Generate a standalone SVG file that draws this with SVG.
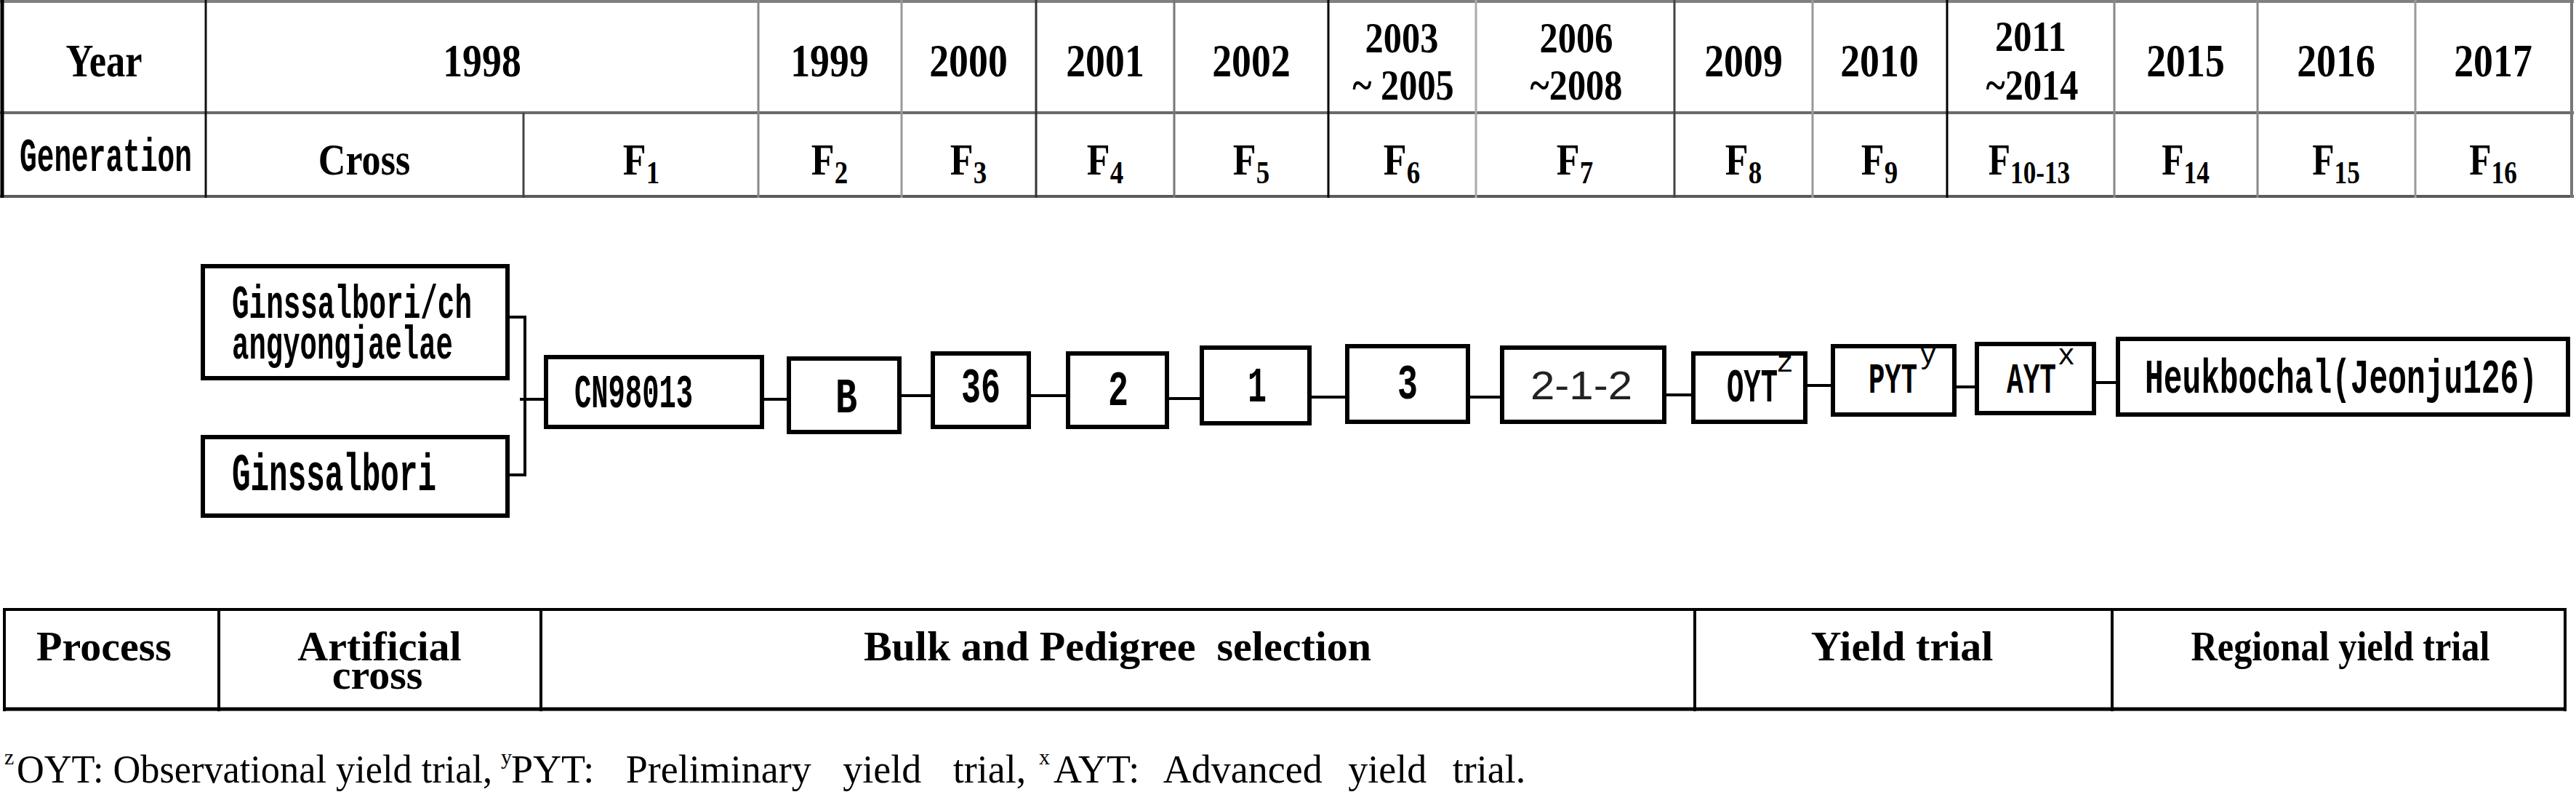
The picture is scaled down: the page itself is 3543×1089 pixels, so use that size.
<svg xmlns="http://www.w3.org/2000/svg" width="3543" height="1089" viewBox="0 0 3543 1089">
<style>
.hd{font-family:"Liberation Serif",serif;font-weight:bold;fill:#000;text-anchor:middle}
.y1{font-size:64px}
.y2{font-size:60px}
.gen{font-size:62px}
.sub{font-size:44px}
.mono{font-family:"Liberation Mono",monospace;font-weight:bold;fill:#000}
.box{fill:#fff;stroke:#000;stroke-width:6}
.conn{fill:none;stroke:#000;stroke-width:4}
.bt{font-family:"Liberation Serif",serif;font-weight:bold;font-size:58px;text-anchor:middle;fill:#000}
.fn{font-family:"Liberation Serif",serif;font-size:54px;fill:#000}
.fs{font-family:"Liberation Serif",serif;font-size:30px;fill:#000}
.sup{font-family:"Liberation Mono",monospace;font-size:40px;fill:#000}
</style>
<rect width="3543" height="1089" fill="#fff"/>

<g id="header-table">
  <g fill="none">
    <line x1="0" y1="2" x2="3540" y2="2" stroke="#808080" stroke-width="4"/>
    <line x1="0" y1="155" x2="3540" y2="155" stroke="#6a6a6a" stroke-width="4"/>
    <line x1="0" y1="270" x2="3540" y2="270" stroke="#5a5a5a" stroke-width="4"/>
    <line x1="3" y1="0" x2="3" y2="272" stroke="#000" stroke-width="5"/>
    <line x1="283" y1="0" x2="283" y2="272" stroke="#111" stroke-width="3"/>
    <line x1="720" y1="155" x2="720" y2="272" stroke="#444" stroke-width="3"/>
    <line x1="1043" y1="0" x2="1043" y2="272" stroke="#888" stroke-width="3"/>
    <line x1="1240" y1="0" x2="1240" y2="272" stroke="#999" stroke-width="3"/>
    <line x1="1425" y1="0" x2="1425" y2="272" stroke="#333" stroke-width="3"/>
    <line x1="1615" y1="0" x2="1615" y2="272" stroke="#777" stroke-width="3"/>
    <line x1="1827" y1="0" x2="1827" y2="272" stroke="#000" stroke-width="3"/>
    <line x1="2030" y1="0" x2="2030" y2="272" stroke="#aaa" stroke-width="3"/>
    <line x1="2303" y1="0" x2="2303" y2="272" stroke="#444" stroke-width="3"/>
    <line x1="2493" y1="0" x2="2493" y2="272" stroke="#999" stroke-width="3"/>
    <line x1="2678" y1="0" x2="2678" y2="272" stroke="#000" stroke-width="3"/>
    <line x1="2908" y1="0" x2="2908" y2="272" stroke="#888" stroke-width="3"/>
    <line x1="3105" y1="0" x2="3105" y2="272" stroke="#888" stroke-width="3"/>
    <line x1="3322" y1="0" x2="3322" y2="272" stroke="#999" stroke-width="3"/>
    <line x1="3537" y1="0" x2="3537" y2="272" stroke="#777" stroke-width="4"/>
  </g>
  <g class="hd y1">
    <text transform="translate(143,105) scale(0.82,1)">Year</text>
    <text transform="translate(663,105) scale(0.84,1)">1998</text>
    <text transform="translate(1141,105) scale(0.84,1)">1999</text>
    <text transform="translate(1332,105) scale(0.84,1)">2000</text>
    <text transform="translate(1520,105) scale(0.84,1)">2001</text>
    <text transform="translate(1721,105) scale(0.84,1)">2002</text>
    <text transform="translate(2398,105) scale(0.84,1)">2009</text>
    <text transform="translate(2585,105) scale(0.84,1)">2010</text>
    <text transform="translate(3006,105) scale(0.84,1)">2015</text>
    <text transform="translate(3213,105) scale(0.84,1)">2016</text>
    <text transform="translate(3429,105) scale(0.84,1)">2017</text>
  </g>
  <g class="hd y2">
    <text transform="translate(1928,72) scale(0.84,1)">2003</text>
    <text transform="translate(1930,137) scale(0.84,1)" xml:space="preserve">~ 2005</text>
    <text transform="translate(2168,72) scale(0.84,1)">2006</text>
    <text transform="translate(2168,137) scale(0.84,1)">~2008</text>
    <text transform="translate(2793,70) scale(0.84,1)">2011</text>
    <text transform="translate(2795,137) scale(0.84,1)">~2014</text>
  </g>
  <text class="mono" x="27" y="235" font-size="64" textLength="237" lengthAdjust="spacingAndGlyphs">Generation</text>
  <g class="hd gen">
    <text transform="translate(501,240) scale(0.84,1)">Cross</text>
    <text transform="translate(882,240) scale(0.84,1)">F<tspan class="sub" dy="12">1</tspan></text>
    <text transform="translate(1141,240) scale(0.84,1)">F<tspan class="sub" dy="12">2</tspan></text>
    <text transform="translate(1332,240) scale(0.84,1)">F<tspan class="sub" dy="12">3</tspan></text>
    <text transform="translate(1520,240) scale(0.84,1)">F<tspan class="sub" dy="12">4</tspan></text>
    <text transform="translate(1721,240) scale(0.84,1)">F<tspan class="sub" dy="12">5</tspan></text>
    <text transform="translate(1928,240) scale(0.84,1)">F<tspan class="sub" dy="12">6</tspan></text>
    <text transform="translate(2166,240) scale(0.84,1)">F<tspan class="sub" dy="12">7</tspan></text>
    <text transform="translate(2398,240) scale(0.84,1)">F<tspan class="sub" dy="12">8</tspan></text>
    <text transform="translate(2585,240) scale(0.84,1)">F<tspan class="sub" dy="12">9</tspan></text>
    <text transform="translate(2791,240) scale(0.80,1)">F<tspan class="sub" dy="12">10-13</tspan></text>
    <text transform="translate(3006,240) scale(0.80,1)">F<tspan class="sub" dy="12">14</tspan></text>
    <text transform="translate(3213,240) scale(0.80,1)">F<tspan class="sub" dy="12">15</tspan></text>
    <text transform="translate(3429,240) scale(0.80,1)">F<tspan class="sub" dy="12">16</tspan></text>
  </g>
</g>

<g id="connectors">
  <path class="conn" d="M692,436 H722 V653 H692 M715,549 H748"/>
  <path class="conn" d="M1051,549 H1082"/>
  <path class="conn" d="M1240,544 H1280"/>
  <path class="conn" d="M1418,544 H1466"/>
  <path class="conn" d="M1608,548 H1650"/>
  <path class="conn" d="M1804,546 H1850"/>
  <path class="conn" d="M2022,546 H2063"/>
  <path class="conn" d="M2292,543 H2326"/>
  <path class="conn" d="M2486,530 H2518"/>
  <path class="conn" d="M2691,532 H2716"/>
  <path class="conn" d="M2883,526 H2910"/>
</g>

<g id="node-parent1">
  <rect class="box" x="279" y="366" width="419" height="154"/>
  <text class="mono" x="319" y="437" font-size="64" textLength="330" lengthAdjust="spacingAndGlyphs">Ginssalbori/ch</text>
  <text class="mono" x="319" y="493" font-size="64" textLength="304" lengthAdjust="spacingAndGlyphs">angyongjaelae</text>
</g>
<g id="node-parent2">
  <rect class="box" x="279" y="601" width="419" height="108"/>
  <text class="mono" x="319" y="674" font-size="72" textLength="281" lengthAdjust="spacingAndGlyphs">Ginssalbori</text>
</g>
<g id="node-cn98013">
  <rect class="box" x="751" y="491" width="297" height="96"/>
  <text class="mono" x="790" y="560" font-size="64" textLength="163" lengthAdjust="spacingAndGlyphs">CN98013</text>
</g>
<g id="node-b">
  <rect class="box" x="1085" y="493" width="152" height="101"/>
  <text class="mono" x="1149" y="567" font-size="68" textLength="30" lengthAdjust="spacingAndGlyphs">B</text>
</g>
<g id="node-36">
  <rect class="box" x="1283" y="486" width="132" height="101"/>
  <text class="mono" x="1322" y="553" font-size="68" textLength="54" lengthAdjust="spacingAndGlyphs">36</text>
</g>
<g id="node-2">
  <rect class="box" x="1469" y="486" width="136" height="101"/>
  <text class="mono" x="1524" y="557" font-size="68" textLength="28" lengthAdjust="spacingAndGlyphs">2</text>
</g>
<g id="node-1">
  <rect class="box" x="1653" y="478" width="148" height="104"/>
  <text class="mono" x="1716" y="552" font-size="68" textLength="26" lengthAdjust="spacingAndGlyphs">1</text>
</g>
<g id="node-3">
  <rect class="box" x="1853" y="476" width="166" height="104"/>
  <text class="mono" x="1922" y="548" font-size="68" textLength="28" lengthAdjust="spacingAndGlyphs">3</text>
</g>
<g id="node-2-1-2">
  <rect class="box" x="2066" y="478" width="223" height="102"/>
  <text x="2105" y="549" font-family="Liberation Sans, sans-serif" font-size="56" fill="#222" textLength="140" lengthAdjust="spacingAndGlyphs">2-1-2</text>
</g>
<g id="node-oyt">
  <rect class="box" x="2329" y="486" width="154" height="94"/>
  <text class="mono" x="2375" y="552" font-size="64" textLength="70" lengthAdjust="spacingAndGlyphs">OYT</text>
  <text class="sup" x="2443" y="511">z</text>
</g>
<g id="node-pyt">
  <rect class="box" x="2521" y="476" width="167" height="94"/>
  <text class="mono" x="2570" y="540" font-size="60" textLength="67" lengthAdjust="spacingAndGlyphs">PYT</text>
  <text class="sup" x="2640" y="500">y</text>
</g>
<g id="node-ayt">
  <rect class="box" x="2719" y="473" width="161" height="95"/>
  <text class="mono" x="2760" y="540" font-size="60" textLength="68" lengthAdjust="spacingAndGlyphs">AYT</text>
  <text class="sup" x="2830" y="501">x</text>
</g>
<g id="node-heukbochal">
  <rect class="box" x="2913" y="466" width="619" height="104"/>
  <text class="mono" x="2950" y="540" font-size="66" textLength="540" lengthAdjust="spacingAndGlyphs">Heukbochal(Jeonju126)</text>
</g>

<g id="process-table">
  <g fill="none" stroke="#000">
    <line x1="4" y1="838" x2="3530" y2="838" stroke-width="4"/>
    <line x1="4" y1="975" x2="3530" y2="975" stroke-width="5"/>
    <line x1="6" y1="836" x2="6" y2="978" stroke-width="4"/>
    <line x1="301" y1="836" x2="301" y2="978" stroke-width="4"/>
    <line x1="744" y1="836" x2="744" y2="978" stroke-width="4"/>
    <line x1="2331" y1="836" x2="2331" y2="978" stroke-width="4"/>
    <line x1="2905" y1="836" x2="2905" y2="978" stroke-width="4"/>
    <line x1="3528" y1="836" x2="3528" y2="978" stroke-width="4"/>
  </g>
  <text class="bt" x="143" y="908">Process</text>
  <text class="bt" x="522" y="908">Artificial</text>
  <text class="bt" x="519" y="947">cross</text>
  <text class="bt" x="1537" y="908">Bulk and Pedigree&#160; selection</text>
  <text class="bt" x="2616" y="908">Yield trial</text>
  <text class="bt" x="3219" y="908" textLength="411" lengthAdjust="spacingAndGlyphs">Regional yield trial</text>
</g>

<g id="footnote">
  <text class="fs" x="6" y="1051">z</text>
  <text class="fn" x="23" y="1076" textLength="654" lengthAdjust="spacingAndGlyphs">OYT: Observational yield trial,</text>
  <text class="fs" x="689" y="1051">y</text>
  <text class="fn" x="703" y="1076" word-spacing="30">PYT: Preliminary yield trial,</text>
  <text class="fs" x="1429" y="1051">x</text>
  <text class="fn" x="1449" y="1076" word-spacing="22">AYT: Advanced yield trial.</text>
</g>
</svg>
